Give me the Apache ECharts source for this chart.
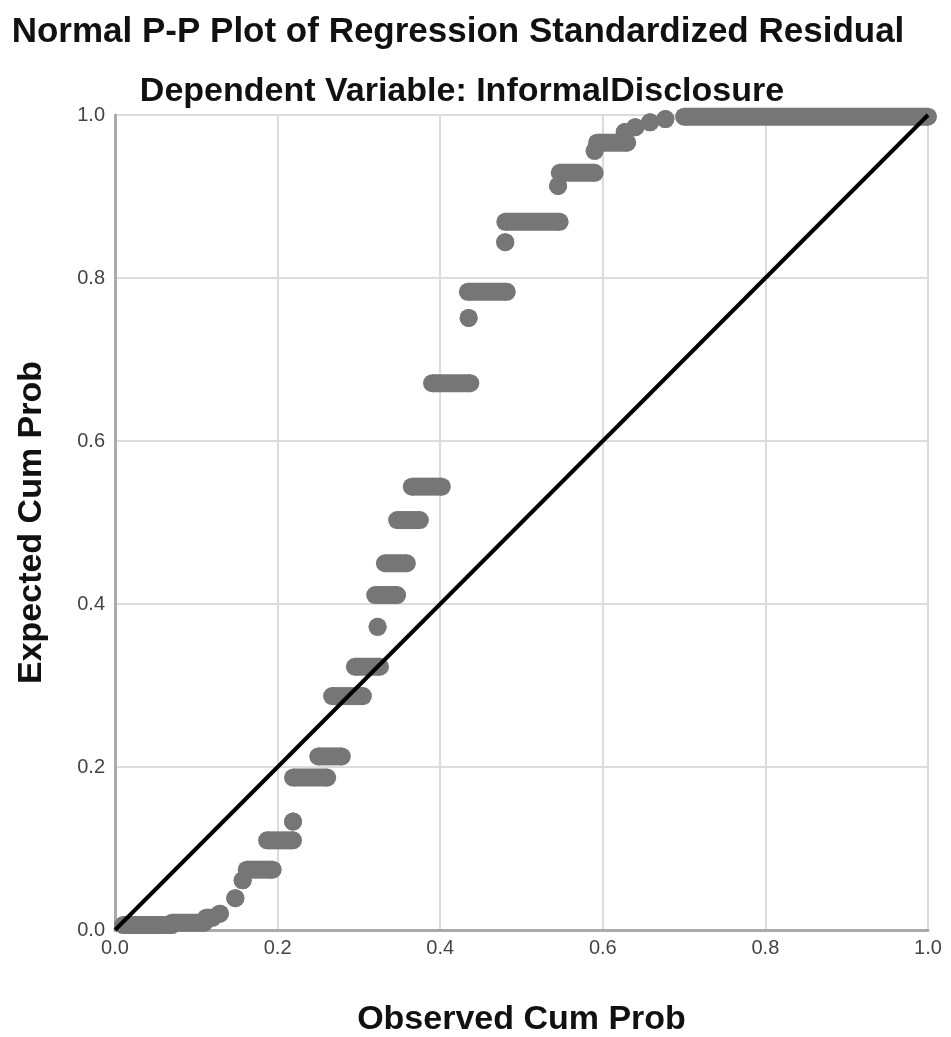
<!DOCTYPE html>
<html>
<head>
<meta charset="utf-8">
<title>Normal P-P Plot</title>
<script src="https://cdn.jsdelivr.net/npm/echarts@6/dist/echarts.min.js"></script>
<style>
    html, body { margin: 0; padding: 0; background: #fff; }
    #main { width: 951px; height: 1037px; }
</style>
</head>
<body>
<div id="main"></div>
<script>
// observed / expected cumulative probabilities
// each run is a set of tied residuals: same expected value, observed from start to end
var runStart = [0.010, 0.070, 0.112, 0.129, 0.148, 0.157, 0.162, 0.187, 0.219, 0.219, 0.250, 0.267, 0.295, 0.323, 0.320, 0.332, 0.347, 0.365, 0.390, 0.435, 0.434, 0.480, 0.480, 0.545, 0.547, 0.590, 0.593, 0.627, 0.640, 0.658, 0.677, 0.700];
var runEnd   = [0.070, 0.110, 0.120, 0.129, 0.148, 0.157, 0.194, 0.219, 0.219, 0.261, 0.279, 0.305, 0.326, 0.323, 0.347, 0.359, 0.375, 0.402, 0.437, 0.435, 0.482, 0.480, 0.547, 0.545, 0.590, 0.590, 0.630, 0.627, 0.640, 0.658, 0.677, 1.000];
var runY     = [0.006, 0.009, 0.015, 0.020, 0.039, 0.061, 0.074, 0.110, 0.133, 0.187, 0.213, 0.287, 0.323, 0.372, 0.411, 0.450, 0.503, 0.544, 0.671, 0.751, 0.783, 0.844, 0.869, 0.913, 0.929, 0.956, 0.966, 0.979, 0.985, 0.991, 0.995, 0.998];
var refLine  = [[0, 0], [1, 1]];

function main() {
    var myChart = echarts.init(document.getElementById('main'));

    var runs = [];
    for (var i = 0; i < runY.length; i++) {
        runs.push([runStart[i], runEnd[i], runY[i]]);
    }

    var dotR = 9;
    var font = 'Liberation Sans';

    var axisCommon = {
        type: 'value',
        min: 0,
        max: 1,
        interval: 0.2,
        nameLocation: 'middle',
        nameTextStyle: {
            fontFamily: font,
            fontSize: 34,
            fontWeight: 'bold',
            color: '#111'
        },
        axisLine: { show: true, lineStyle: { color: '#aaaaaa', width: 3 } },
        axisTick: { show: false },
        splitLine: { show: true, lineStyle: { color: '#dcdcdc', width: 2 } },
        axisLabel: {
            fontFamily: font,
            fontSize: 20,
            color: '#444',
            formatter: function (v) { return v.toFixed(1); }
        }
    };

    var option = {
        backgroundColor: '#ffffff',
        animation: false,
        title: [
            {
                text: 'Normal P-P Plot of Regression Standardized Residual',
                left: 453,
                top: 10,
                textAlign: 'center',
                textStyle: { fontFamily: font, fontSize: 35, fontWeight: 'bold', color: '#111' }
            },
            {
                text: 'Dependent Variable: InformalDisclosure',
                left: 457,
                top: 70,
                textAlign: 'center',
                textStyle: { fontFamily: font, fontSize: 34, fontWeight: 'bold', color: '#111' }
            }
        ],
        grid: { left: 115, right: 23, top: 115, bottom: 107, outerBoundsMode: 'none' },
        xAxis: echarts.util.merge({
            name: 'Observed Cum Prob',
            nameGap: 73,
            axisLabel: { margin: 8 }
        }, axisCommon),
        yAxis: echarts.util.merge({
            name: 'Expected Cum Prob',
            nameGap: 66,
            axisLabel: { margin: 10 }
        }, axisCommon),
        series: [
            {
                name: 'Residual',
                type: 'custom',
                data: runs,
                encode: { x: [0, 1], y: 2 },
                renderItem: function (params, api) {
                    var p1 = api.coord([api.value(0), api.value(2)]);
                    var p2 = api.coord([api.value(1), api.value(2)]);
                    var style = { fill: '#767676' };
                    return {
                        type: 'group',
                        children: [
                            { type: 'circle', shape: { cx: p1[0], cy: p1[1], r: dotR }, style: style },
                            { type: 'circle', shape: { cx: p2[0], cy: p2[1], r: dotR }, style: style },
                            { type: 'rect', shape: { x: p1[0], y: p1[1] - dotR, width: p2[0] - p1[0], height: dotR * 2 }, style: style }
                        ]
                    };
                },
                z: 2
            },
            {
                name: 'Reference',
                type: 'line',
                data: refLine,
                symbol: 'none',
                lineStyle: { color: '#000', width: 4 },
                z: 3
            }
        ]
    };

    myChart.setOption(option);
}

main();
</script>
</body>
</html>
